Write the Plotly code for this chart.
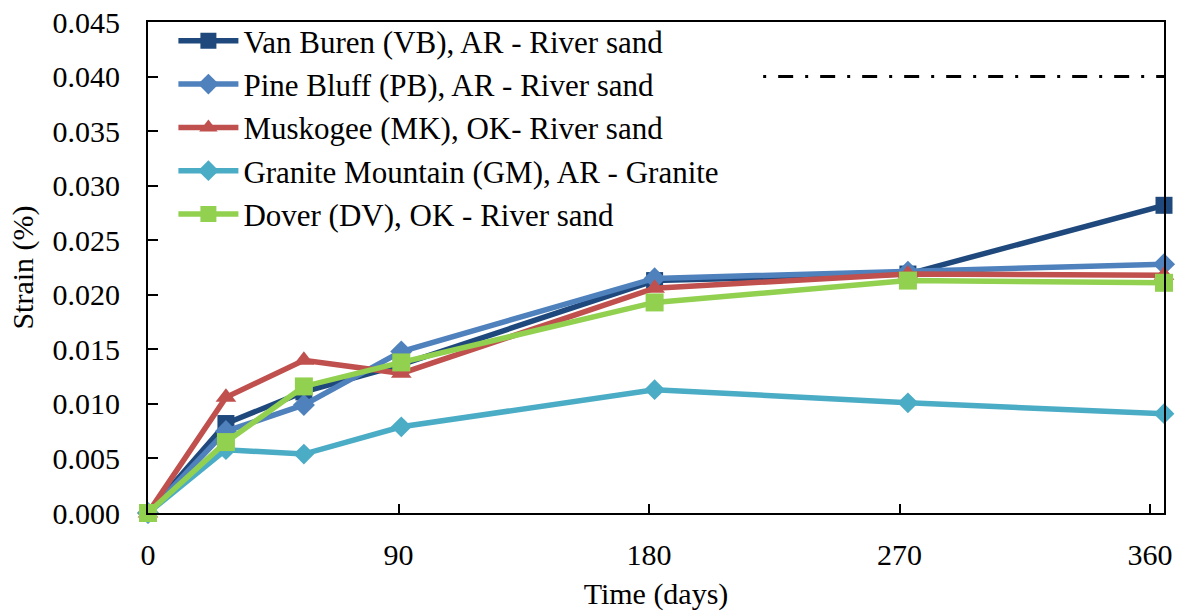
import plotly.graph_objects as go

days = [0, 28, 56, 91, 182, 273, 365]
vb = [0.0, 0.0082, 0.0111, 0.0136, 0.0213, 0.0219, 0.0282]
pb = [0.0, 0.0075, 0.0099, 0.0148, 0.0215, 0.0221, 0.0228]
mk = [0.0, 0.0106, 0.0140, 0.0128, 0.0206, 0.0219, 0.0218]
gm = [0.0, 0.0058, 0.0054, 0.0079, 0.0113, 0.0101, 0.0091]
dv = [0.0, 0.0065, 0.0116, 0.0138, 0.0193, 0.0213, 0.0211]

limit_x = [221, 365]
limit_y = [0.040, 0.040]

series = [
    ("Van Buren (VB), AR - River sand", vb, "#1F497D", "square", 17),
    ("Pine Bluff (PB), AR - River sand", pb, "#4F81BD", "diamond", 17),
    ("Muskogee (MK), OK- River sand", mk, "#C0504D", "triangle-up", 18),
    ("Granite Mountain (GM), AR - Granite", gm, "#4BACC6", "diamond", 16),
    ("Dover (DV), OK - River sand", dv, "#92D050", "square", 18),
]

FONT = "Times New Roman, Liberation Serif, serif"

fig = go.Figure()
for name, ys, color, sym, size in series:
    fig.add_trace(go.Scatter(
        x=days, y=ys, name=name, mode="lines+markers",
        line=dict(color=color, width=5.5),
        marker=dict(symbol=sym, size=size, color=color),
        cliponaxis=False,
    ))

fig.add_trace(go.Scatter(
    x=limit_x, y=limit_y, mode="lines", showlegend=False,
    line=dict(color="black", width=3, dash="3px,12px,15px,12px"),
    hoverinfo="skip",
))

fig.update_layout(
    width=1181, height=611,
    margin=dict(l=148, r=17, t=22, b=98),
    paper_bgcolor="white", plot_bgcolor="white",
    font=dict(family=FONT, size=30, color="black"),
    legend=dict(
        x=0.025, y=1.016, xanchor="left", yanchor="top",
        bgcolor="rgba(0,0,0,0)", font=dict(size=31, family=FONT, color="black"),
        tracegroupgap=0, itemwidth=60,
    ),
    showlegend=True,
)
fig.update_xaxes(
    range=[0, 365], tickvals=[0, 90, 180, 270, 360],
    ticks="inside", ticklen=9, tickwidth=2, tickcolor="black",
    showline=True, linecolor="black", linewidth=2, mirror=True,
    showgrid=False, zeroline=False, automargin=False,
    ticklabelstandoff=14,
    title=dict(text="Time (days)", font=dict(size=30, family=FONT), standoff=14),
)
fig.update_yaxes(
    range=[0, 0.045], dtick=0.005, tickformat=".3f",
    ticks="inside", ticklen=10, tickwidth=2, tickcolor="black",
    showline=True, linecolor="black", linewidth=2, mirror=True,
    showgrid=False, zeroline=False, automargin=False,
    ticklabelstandoff=20,
    title=dict(text="Strain (%)", font=dict(size=30, family=FONT), standoff=10),
)

fig.write_html("out.html")
